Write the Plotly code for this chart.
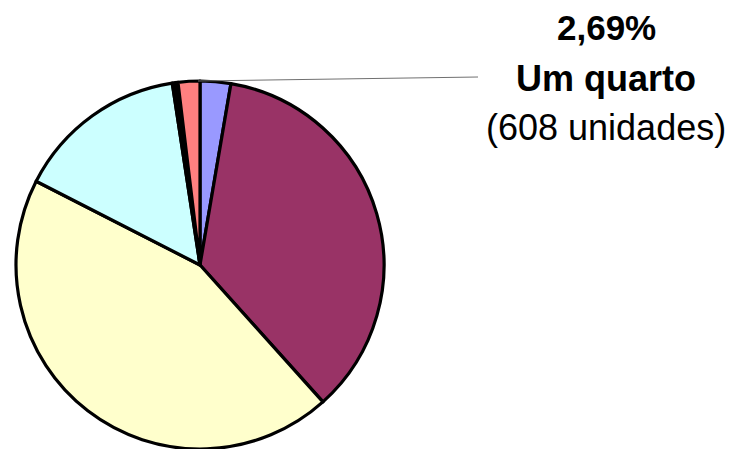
import plotly.graph_objects as go

# Data (percent of total), clockwise from 12 o'clock
categories = ["Um quarto", "Dois quartos", "Três quartos", "Quatro quartos", "Cinco quartos", "Outros"]
percent = [2.69, 35.67, 44.17, 15.07, 0.50, 1.91]
colors = ["#9999FF", "#993366", "#FFFFCC", "#CCFFFF", "#000000", "#FF8080"]

label_pct = "2,69%"
label_name = "Um quarto"
label_units = "(608 unidades)"

W, H = 729, 449
cx, cy, r = 200, 265, 184

fig = go.Figure(go.Pie(
    labels=categories,
    values=percent,
    sort=False,
    direction="clockwise",
    rotation=0,
    textinfo="none",
    hoverinfo="label+percent",
    marker=dict(colors=colors, line=dict(color="#000000", width=3.2)),
    domain=dict(x=[(cx - r) / W, (cx + r) / W], y=[(H - cy - r) / H, (H - cy + r) / H]),
    showlegend=False,
))

def px(x):
    return x / W

def py(y):
    return 1 - y / H

fig.add_shape(type="line", xref="paper", yref="paper",
              x0=px(198), y0=py(81), x1=px(478), y1=py(77),
              line=dict(color="#707070", width=1))

fam = "Liberation Sans, Arial, sans-serif"
tx = px(606)
for text, y, size in [("<b>" + label_pct + "</b>", 27, 35),
                      ("<b>" + label_name + "</b>", 79, 36),
                      (label_units, 127, 36)]:
    fig.add_annotation(text=text, xref="paper", yref="paper", x=tx, y=py(y),
                       xanchor="center", yanchor="middle", showarrow=False,
                       font=dict(family=fam, size=size, color="#000000"))

fig.update_layout(width=W, height=H, margin=dict(l=0, r=0, t=0, b=0),
                  paper_bgcolor="#FFFFFF", plot_bgcolor="#FFFFFF")

fig.write_html("out.html", config={"displayModeBar": False},
               post_script="document.body.style.margin='0';document.body.style.overflow='hidden';")
